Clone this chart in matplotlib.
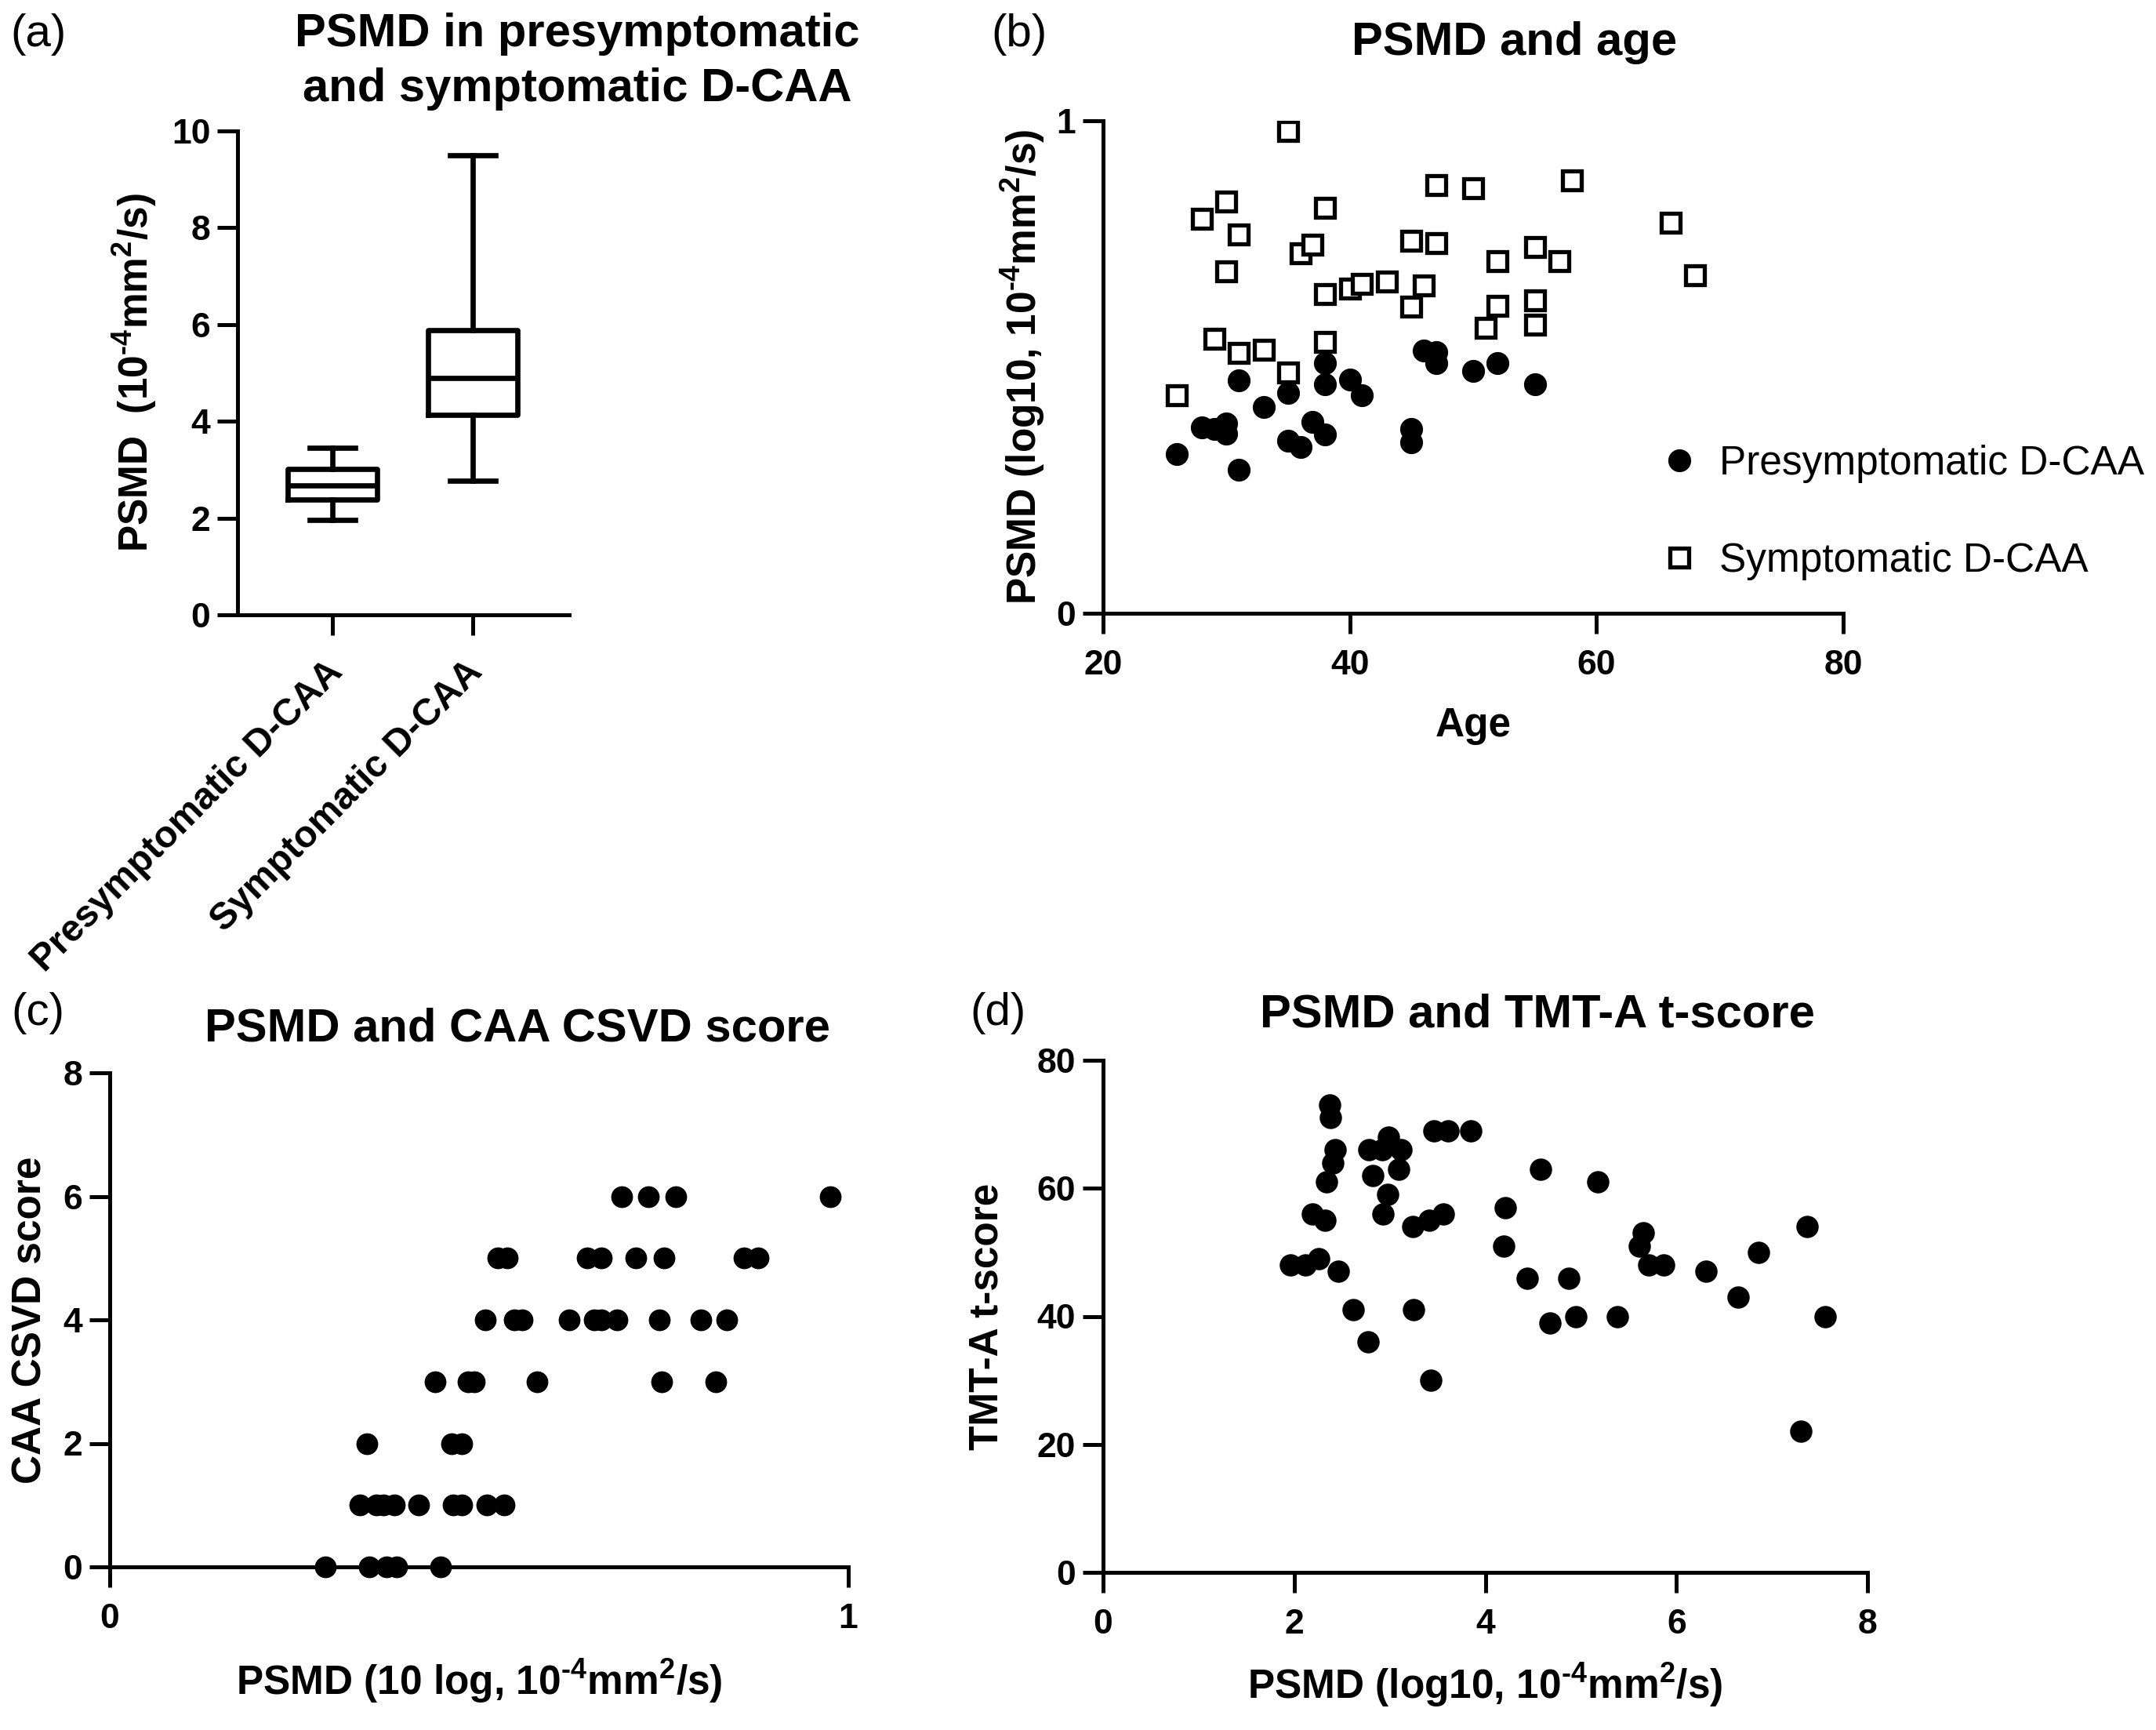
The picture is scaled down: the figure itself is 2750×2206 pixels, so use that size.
import matplotlib
matplotlib.use('Agg')
import matplotlib.pyplot as plt
from matplotlib.transforms import ScaledTranslation

plt.rcParams['font.family'] = ['Liberation Sans', 'DejaVu Sans']
plt.rcParams['mathtext.default'] = 'regular'

# ---------------- data ----------------
# (a) box plot summary values (10^-4 mm^2/s)
box_groups = ['Presymptomatic D-CAA', 'Symptomatic D-CAA']
box_min = [1.96, 2.77]
box_q1 = [2.38, 4.13]
box_median = [2.67, 4.89]
box_q3 = [3.01, 5.88]
box_max = [3.46, 9.49]

# (b) PSMD and age
pres_age = [26, 28, 29, 30, 30, 31, 31, 33, 35, 35, 36, 37, 38, 38, 38, 40, 41,
            45, 45, 46, 47, 47, 50, 52, 55]
pres_psmd = [0.323, 0.378, 0.375, 0.385, 0.365, 0.473, 0.291, 0.418, 0.448, 0.351,
             0.338, 0.389, 0.508, 0.465, 0.363, 0.475, 0.443, 0.374, 0.347, 0.534,
             0.530, 0.508, 0.492, 0.508, 0.465]
symp_age = [26, 28, 30, 31, 30, 29, 31, 33, 35, 35, 36, 37, 38, 38, 38, 40, 41, 43,
            45, 45, 46, 47, 47, 50, 52, 52, 51, 55, 55, 55, 57, 58, 66, 68]
symp_psmd = [0.443, 0.801, 0.836, 0.769, 0.695, 0.557, 0.528, 0.535, 0.489, 0.979,
             0.731, 0.749, 0.823, 0.648, 0.551, 0.660, 0.668, 0.674, 0.757, 0.622,
             0.665, 0.869, 0.751, 0.863, 0.715, 0.624, 0.580, 0.744, 0.636, 0.586,
             0.715, 0.879, 0.793, 0.687]

# (c) PSMD and CAA CSVD score
csvd_psmd = [0.693, 0.729, 0.766, 0.976,
             0.526, 0.538, 0.646, 0.666, 0.712, 0.751, 0.859, 0.878,
             0.509, 0.548, 0.558, 0.622, 0.656, 0.666, 0.687, 0.744, 0.800, 0.835,
             0.441, 0.485, 0.494, 0.579, 0.747, 0.821,
             0.348, 0.463, 0.477,
             0.339, 0.361, 0.370, 0.385, 0.418, 0.465, 0.477, 0.511, 0.534,
             0.292, 0.351, 0.375, 0.389, 0.448]
csvd_score = [6, 6, 6, 6,
              5, 5, 5, 5, 5, 5, 5, 5,
              4, 4, 4, 4, 4, 4, 4, 4, 4, 4,
              3, 3, 3, 3, 3, 3,
              2, 2, 2,
              1, 1, 1, 1, 1, 1, 1, 1, 1,
              0, 0, 0, 0, 0]

# (d) PSMD and TMT-A t-score
tmt_psmd = [2.37, 2.38, 2.43, 2.40, 2.34, 2.19, 2.32, 1.96, 2.12, 2.26, 2.46, 2.62,
            2.77, 2.78, 2.92, 2.99, 3.12, 2.82, 3.09, 2.98, 2.93, 3.24, 3.41, 3.56,
            3.25, 3.43, 3.46, 3.61, 3.85, 4.21, 4.19, 4.58, 4.44, 4.68, 4.87, 4.95,
            5.18, 5.38, 5.65, 5.61, 5.71, 5.87, 6.31, 6.65, 6.86, 7.37, 7.30, 7.56]
tmt_score = [73, 71, 66, 64, 61, 56, 55, 48, 48, 49, 47, 41,
             36, 66, 66, 68, 66, 62, 63, 59, 56, 54, 55, 56,
             41, 30, 69, 69, 69, 57, 51, 63, 46, 39, 46, 40,
             61, 40, 53, 51, 48, 48, 47, 43, 50, 54, 22, 40]

# ---------------- figure ----------------
W, H = 2750, 2206
fig = plt.figure(figsize=(W / 100, H / 100), dpi=100)


def axrect(l, r, t, b):
    return [l / W, 1 - b / H, (r - l) / W, (b - t) / H]


def fx(p):
    return p / W


def fy(p):
    return 1 - p / H


LW = 3.6
BOX_LW = 4.8
TICK_FS = 32
LABEL_FS = 37
TITLE_FS = 43
PANEL_FS = 42
UNIT = '10$^{\u2010' + '4}$mm$^{2}$/s'


def style(ax):
    for s in ['top', 'right']:
        ax.spines[s].set_visible(False)
    for s in ['left', 'bottom']:
        ax.spines[s].set_linewidth(LW)
    ax.tick_params(width=LW, length=19, labelsize=TICK_FS, direction='out')
    ax.tick_params(axis='x', pad=14)
    ax.tick_params(axis='y', pad=6)


def set_ticks(ax, xt, xl, yt, yl):
    ax.set_xticks(xt)
    ax.set_xticklabels(xl, fontweight='bold')
    ax.set_yticks(yt)
    ax.set_yticklabels(yl, fontweight='bold')


# ----- (a) -----
axA = fig.add_axes(axrect(303, 726, 167, 784))
stats = []
for i in range(len(box_groups)):
    stats.append(dict(whislo=box_min[i], q1=box_q1[i], med=box_median[i],
                      q3=box_q3[i], whishi=box_max[i], label=box_groups[i]))
lp = dict(linewidth=BOX_LW, color='black')
axA.bxp(stats, positions=[1, 2], widths=0.64, capwidths=0.32, showfliers=False,
        boxprops=lp, whiskerprops=lp, capprops=lp,
        medianprops=dict(linewidth=BOX_LW, color='black'))
axA.set_xlim(0.324, 2.688)
axA.set_ylim(0, 10)
style(axA)
set_ticks(axA, [1, 2], box_groups, [0, 2, 4, 6, 8, 10], ['0', '2', '4', '6', '8', '10'])
axA.tick_params(axis='x', pad=17)
for lab in axA.get_xticklabels():
    lab.set_fontsize(34.5)
    lab.set_rotation(45)
    lab.set_ha('right')
    lab.set_va('top')
    lab.set_rotation_mode('anchor')
    lab.set_transform(lab.get_transform() + ScaledTranslation(-0.10, 0, fig.dpi_scale_trans))
axA.set_ylabel('PSMD  (' + UNIT + ')', fontsize=LABEL_FS, fontweight='bold', va='center')
axA.yaxis.set_label_coords(-0.31, 0.5)

# ----- (b) -----
axB = fig.add_axes(axrect(1407, 2351, 154, 782))
h1, = axB.plot(pres_age, pres_psmd, 'o', ms=20, color='black', mec='black', ls='none')
h2, = axB.plot(symp_age, symp_psmd, 's', ms=17.5, mfc='white', mec='black', mew=3.8, ls='none')
axB.set_xlim(20, 80)
axB.set_ylim(0, 1)
style(axB)
set_ticks(axB, [20, 40, 60, 80], ['20', '40', '60', '80'], [0, 1], ['0', '1'])
axB.set_xlabel('Age', fontsize=LABEL_FS, fontweight='bold', va='baseline')
axB.xaxis.set_label_coords(0.5, -0.25)
axB.set_ylabel('PSMD (log10, ' + UNIT + ')', fontsize=LABEL_FS, fontweight='bold', va='center')
axB.yaxis.set_label_coords(-0.108, 0.5)
axB.legend([h1, h2], ['Presymptomatic D-CAA', 'Symptomatic D-CAA'],
           loc='upper left', bbox_to_anchor=(fx(2116), fy(567)),
           bbox_transform=fig.transFigure, frameon=False, fontsize=37,
           handlelength=1.0, handletextpad=0.5, labelspacing=1.45,
           borderpad=0, borderaxespad=0, numpoints=1)

# ----- (c) -----
axC = fig.add_axes(axrect(140, 1082, 1368, 1998))
axC.plot(csvd_psmd, csvd_score, 'o', ms=19, color='black', ls='none', clip_on=False, zorder=5)
axC.set_xlim(0, 1)
axC.set_ylim(0, 8)
style(axC)
set_ticks(axC, [0, 1], ['0', '1'], [0, 2, 4, 6, 8], ['0', '2', '4', '6', '8'])
axC.set_xlabel('PSMD (10 log, ' + UNIT + ')', fontsize=LABEL_FS, fontweight='bold', va='baseline')
axC.xaxis.set_label_coords(0.5, -0.259)
axC.set_ylabel('CAA CSVD score', fontsize=LABEL_FS, fontweight='bold', va='center')
axC.yaxis.set_label_coords(-0.107, 0.5)

# ----- (d) -----
axD = fig.add_axes(axrect(1407, 2382, 1352, 2005))
axD.plot(tmt_psmd, tmt_score, 'o', ms=19.5, color='black', ls='none', clip_on=False, zorder=5)
axD.set_xlim(0, 8)
axD.set_ylim(0, 80)
style(axD)
set_ticks(axD, [0, 2, 4, 6, 8], ['0', '2', '4', '6', '8'], [0, 20, 40, 60, 80],
          ['0', '20', '40', '60', '80'])
axD.set_xlabel('PSMD (log10, ' + UNIT + ')', fontsize=LABEL_FS, fontweight='bold', va='baseline')
axD.xaxis.set_label_coords(0.5, -0.247)
axD.set_ylabel('TMT-A t-score', fontsize=LABEL_FS, fontweight='bold', va='center')
axD.yaxis.set_label_coords(-0.152, 0.5)

# ----- titles & panel letters -----
fig.text(fx(736), fy(59), 'PSMD in presymptomatic', ha='center', va='baseline',
         fontsize=TITLE_FS, fontweight='bold')
fig.text(fx(736), fy(129), 'and symptomatic D-CAA', ha='center', va='baseline',
         fontsize=TITLE_FS, fontweight='bold')
fig.text(fx(1932), fy(70), 'PSMD and age', ha='center', va='baseline',
         fontsize=TITLE_FS, fontweight='bold')
fig.text(fx(660), fy(1328), 'PSMD and CAA CSVD score', ha='center', va='baseline',
         fontsize=TITLE_FS, fontweight='bold')
fig.text(fx(1961), fy(1310), 'PSMD and TMT-A t-score', ha='center', va='baseline',
         fontsize=TITLE_FS, fontweight='bold')

fig.text(fx(13), fy(44), '(a)', ha='left', va='center', fontsize=PANEL_FS)
fig.text(fx(1264), fy(44), '(b)', ha='left', va='center', fontsize=PANEL_FS)
fig.text(fx(14), fy(1292), '(c)', ha='left', va='center', fontsize=PANEL_FS)
fig.text(fx(1237), fy(1292), '(d)', ha='left', va='center', fontsize=PANEL_FS)

fig.savefig('out.png', dpi=100, facecolor='white')
